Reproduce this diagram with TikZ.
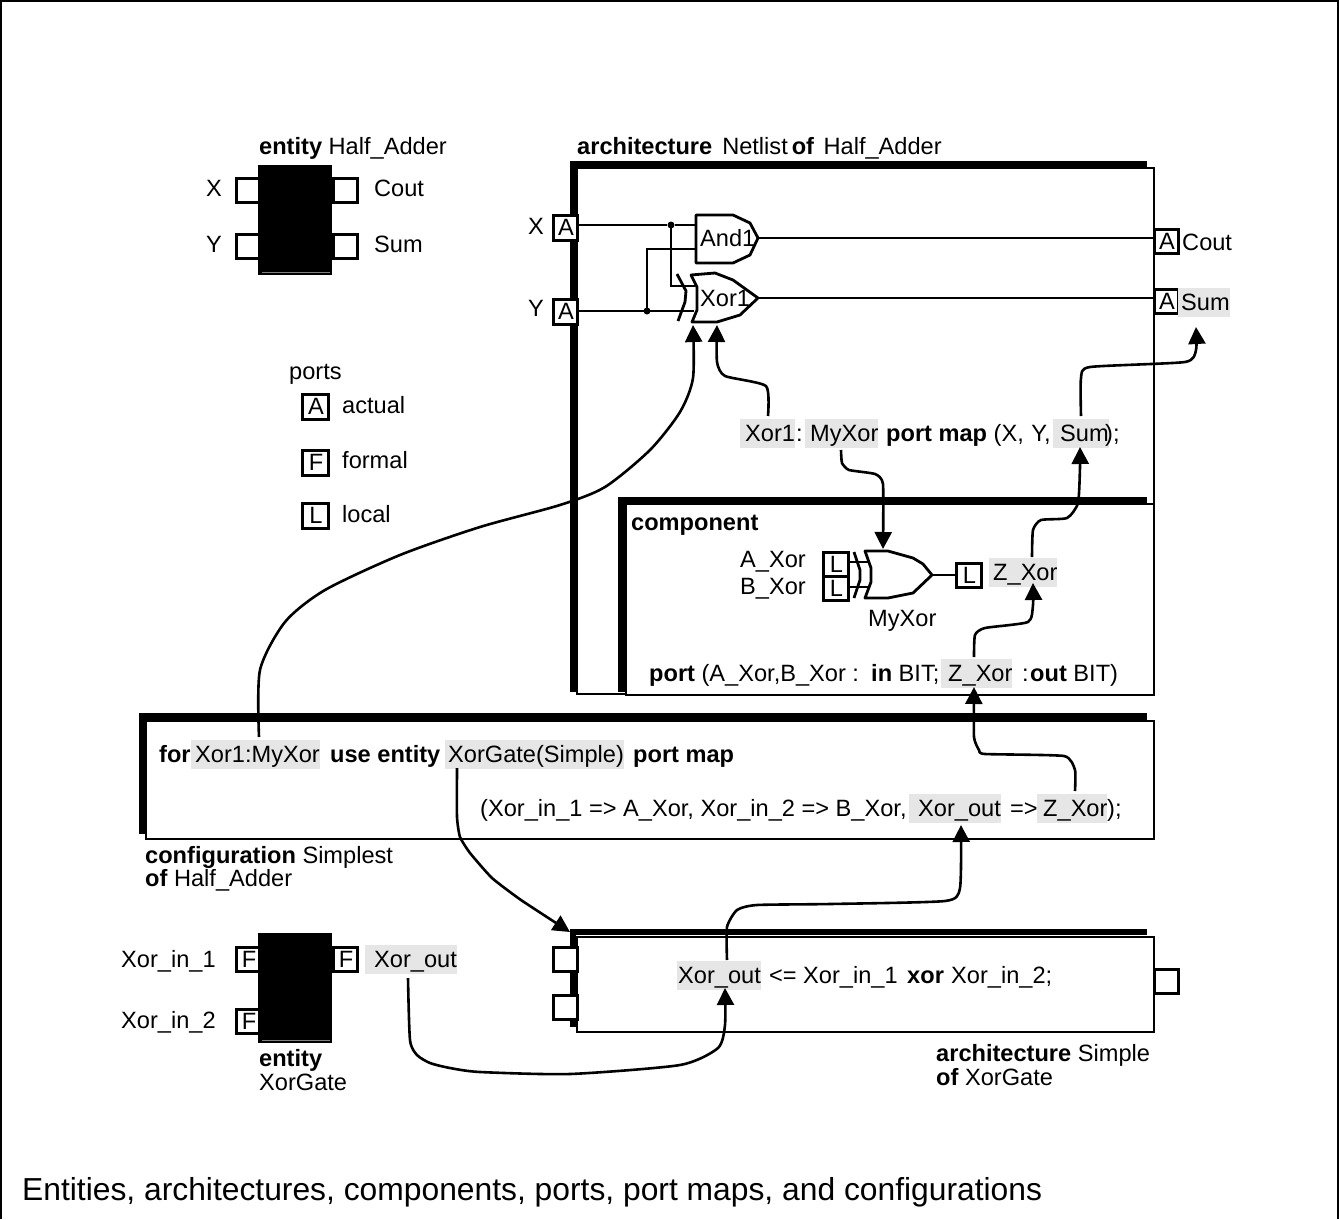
\documentclass[tikz,border=0pt]{standalone}
\usepackage{fontspec}
\setmainfont{Liberation Sans}
\usetikzlibrary{arrows.meta}
\definecolor{lblgrey}{HTML}{E6E6E6}
\newcommand{\pl}[1]{\hspace{1.5pt}\raisebox{-1.5pt}{#1}}
\tikzset{
  txt/.style={inner sep=0pt,anchor=west,text height=21pt,text depth=5pt,font=\fontsize{23.6}{26}\selectfont},
  glab/.style={txt,fill=lblgrey,inner ysep=1.5pt},
  port/.style={draw=black,line width=2.6pt,fill=white,inner sep=0pt,minimum width=24pt,minimum height=24pt,anchor=north west,font=\fontsize{23.6}{26}\selectfont},
  frameb/.style={draw=black,line width=2.4pt,anchor=north west,inner sep=0pt},
  blackb/.style={fill=black,draw=none,anchor=north west,inner sep=0pt,minimum width=74pt,minimum height=110pt},
  bar/.style={line width=6.5pt,black},
  wire/.style={line width=2.8pt,black},
  gate/.style={line width=2.8pt,black,line join=round,fill=white},
  curve/.style={line width=2.6pt,black,-{Triangle[length=17pt,width=17pt]}},
  dotj/.style={circle,fill=black,inner sep=0pt,minimum size=7pt},
}
\begin{document}
\begin{tikzpicture}[x=1pt,y=-1pt]
\useasboundingbox (0,0) rectangle (1339,1219);
\draw[line width=2pt] (1,1219) -- (1,1) -- (1338,1) -- (1338,1219);

% entity Half_Adder
\node[txt] (eName) at (259,146) {\textbf{entity} Half\_Adder\hspace{0pt}};
\node[port] (eX) at (235,177) {};
\node[port] (eY) at (235,233) {};
\node[port] (eC) at (332,177) {};
\node[port] (eS) at (332,233) {};
\node[blackb] (eBox) at (258,165) {};
\draw[gray,line width=.8pt] (262,272) -- (330,272);
\node[txt] (eXt) at (206,188) {X};
\node[txt] (eYt) at (206,244) {Y};
\node[txt] (eCt) at (374,188) {Cout};
\node[txt] (eSt) at (374,244) {Sum};

% legend
\node[txt] (lgT) at (289,371) {ports};
\node[port,minimum width=26pt,minimum height=25pt] (lgA) at (301,393) {\pl{A}};
\node[port,minimum width=26pt,minimum height=25pt] (lgF) at (301,449) {\pl{F}};
\node[port,minimum width=26pt,minimum height=25pt] (lgL) at (301,502) {\pl{L}};
\node[txt] (lgAt) at (342,405) {actual};
\node[txt] (lgFt) at (342,460) {formal};
\node[txt] (lgLt) at (342,514) {local};

% architecture Netlist
\node[txt] (aName) at (577,146) {\textbf{architecture}\hspace{3.4pt} Netlist\hspace{-2.6pt} \textbf{of}\hspace{3pt} Half\_Adder};
\node[frameb,minimum width=577pt,minimum height=526pt] (aBox) at (576,167) {};
\draw[bar] (570,164) -- (1147,164);
\draw[bar] (573.5,161) -- (573.5,692);

% component
\node[frameb,fill=white,minimum width=528pt,minimum height=191pt] (cBox) at (625,503) {};
\draw[bar] (618,500) -- (1147,500);
\draw[bar] (621.5,497) -- (621.5,692);
\node[txt] (cName) at (631,522) {\textbf{component}};

% configuration
\node[frameb,minimum width=1008pt,minimum height=118pt] (fBox) at (145,720) {};
\draw[bar] (139,716.5) -- (1147,716.5);
\draw[bar] (142.5,713) -- (142.5,834);

% architecture Simple
\node[frameb,minimum width=577pt,minimum height=95pt] (sBox) at (576,936) {};
\draw[bar] (570,932) -- (1147,932);
\draw[bar] (573,929) -- (573,1027);
\node[port] (sP1) at (552,946) {};
\node[port] (sP2) at (552,994) {};
\node[port] (sP3) at (1153,968) {};

% Netlist ports and gates
\node[port,minimum height=25pt] (pX) at (552,214) {\pl{A}};
\node[port,minimum height=25pt] (pY) at (552,298) {\pl{A}};
\node[port] (pC) at (1153,228) {\pl{A}};
\node[port] (pS) at (1153,288) {\pl{A}};
\node[txt] (pXt) at (528,226) {X};
\node[txt] (pYt) at (528,308) {Y};
\node[txt] (pCt) at (1182,242) {Cout};
\node[glab] (pSt) at (1178,302) {\hspace{3pt}Sum\hspace{0pt}};

\coordinate (andI1) at (696,225);
\coordinate (andI2) at (696,249);
\coordinate (andO) at (758,238);
\coordinate (xorI1) at (695,286);
\coordinate (xorI2) at (694,311);
\coordinate (xorO) at (758,298);
\node[dotj] (dX) at (671,225) {};
\node[dotj] (dY) at (647,311) {};
\draw[wire] (pX.east |- andI1) -- (dX) -- (andI1);
\draw[wire] (pY.east |- xorI2) -- (dY.center) -- (xorI2);
\draw[wire] (dX.center) |- (xorI1);
\draw[wire] (dY.center) |- (andI2);
\draw[wire] (andO) -- (pC.west |- andO);
\draw[wire] (xorO) -- (pS.west |- xorO);
\draw[gate] (696,215) -- (733,215) -- (750,223) -- (758,238) -- (750,255) -- (733,263) -- (696,263) -- cycle;
\draw[gate,fill=none] (677,274) -- (686,291) -- (685,302) -- (678,321);
\draw[gate] (691,275) -- (715,273) -- (733,280) -- (758,298) -- (740,315) -- (717,322) -- (692,322) -- (697,310) -- (697,287) -- cycle;
\node[txt] (gA) at (700,238) {And1};
\node[txt] (gX) at (700,298) {Xor1};
\coordinate (gXb1) at (693,325);
\coordinate (gXb2) at (717,325);

% port map statement
\node[glab] (mXor1) at (740,433) {\hspace{5pt}Xor1\hspace{2pt}};
\node[txt] (mColon) at (796,433) {:};
\node[glab] (mMy) at (805,433) {\hspace{5pt}MyXor\hspace{3pt}};
\node[txt] (mPM) at (886,433) {\textbf{port map} (X,\hspace{1pt} Y,};
\node[glab] (mSum) at (1053,433) {\hspace{7pt}Sum};
\node[txt] (mEnd) at (1105,433) {);};

% component symbol
\node[txt] (cA) at (740,559) {A\_Xor};
\node[txt] (cB) at (740,586) {B\_Xor};
\node[port,minimum width=25pt] (cL1) at (822,551) {\pl{L}};
\node[port,minimum width=25pt] (cL2) at (822,575) {\pl{L}};
\node[port,minimum width=25pt] (cL3) at (955,562) {\pl{L}};
\coordinate (cI1) at (868,562);
\coordinate (cI2) at (868,587);
\coordinate (cO) at (932,575);
\draw[wire] (cL1.east |- cI1) -- (cI1);
\draw[wire] (cL2.east |- cI2) -- (cI2);
\draw[wire] (cO) -- (cL3.west |- cO);
\draw[gate,fill=none] (854,552) -- (860,570) -- (860,580) -- (854,598);
\draw[gate] (865,551) -- (888,551) -- (913,558) -- (923,564) -- (932,575) -- (913,593) -- (888,598) -- (865,598) -- (871,582) -- (871,568) -- cycle;
\node[txt] (cMy) at (868,618) {MyXor};
\coordinate (cTop) at (883,549);
\node[glab] (cZ) at (989,572) {\hspace{4pt}Z\_Xor\hspace{2pt}};
\node[txt] (cP1) at (649,673) {\textbf{port} (A\_Xor,B\_Xor :};
\node[txt] (cP1b) at (871,673) {\textbf{in} BIT;};
\node[glab] (cZ2) at (941,673) {\hspace{7pt}Z\_Xor};
\node[txt] (cP2) at (1022,673) {:};
\node[txt] (cP3) at (1030,673) {\textbf{out} BIT)};

% configuration text
\node[txt] (f1) at (159,754) {\textbf{for}};
\node[glab] (f2) at (191,754) {\hspace{4pt}Xor1:MyXor\hspace{3pt}};
\node[txt] (f3) at (330,754) {\textbf{use entity}};
\node[glab] (f4) at (445,754) {\hspace{3pt}XorGate(Simple)\hspace{5pt}};
\node[txt] (f5) at (633,754) {\textbf{port map}};
\node[txt] (f6) at (480,808) {(Xor\_in\_1 => A\_Xor, Xor\_in\_2 => B\_Xor,};
\node[glab] (f7) at (909,808) {\hspace{9pt}Xor\_out\hspace{0pt}};
\node[txt] (f8) at (1010,808) {=>};
\node[glab] (f9) at (1037,808) {\hspace{6pt}Z\_Xor};
\node[txt] (f10) at (1107,808) {);};
\node[txt] (fN1) at (145,855) {\textbf{configuration} Simplest};
\node[txt] (fN2) at (145,878) {\textbf{of} Half\_Adder};

% entity XorGate
\node[port] (xF1) at (235,946) {\pl{F}};
\node[port] (xF2) at (235,1008) {\pl{F}};
\node[port] (xF3) at (332,946) {\pl{F}};
\node[blackb] (xBox) at (258,933) {};
\draw[gray,line width=.8pt] (262,1040) -- (330,1040);
\node[txt] (xT1) at (121,959) {Xor\_in\_1};
\node[txt] (xT2) at (121,1020) {Xor\_in\_2};
\node[glab] (xOut) at (365,959) {\hspace{9pt}Xor\_out};
\node[txt] (xN1) at (259,1058) {\textbf{entity}};
\node[txt] (xN2) at (259,1082) {XorGate};

% architecture Simple text
\node[glab] (sOut) at (677,975) {\hspace{1pt}Xor\_out\hspace{8pt}};
\node[txt] (sLe) at (769,975) {<=};
\node[txt] (sRest) at (803,975) {Xor\_in\_1};
\node[txt] (sXor) at (907,975) {\textbf{xor}};
\node[txt] (sRest2) at (951,975) {Xor\_in\_2;};
\node[txt] (sN1) at (936,1053) {\textbf{architecture} Simple};
\node[txt] (sN2) at (936,1077) {\textbf{of} XorGate};

% caption
\node[txt,font=\fontsize{31.8}{34}\selectfont] (cap) at (22,1192) {Entities, architectures, components, ports, port maps, and configurations};

% connector ends
\coordinate (k1) at (259,737);
\coordinate (k2) at (768,416);
\coordinate (k3a) at (1081,416);
\coordinate (k3b) at (1196,327);
\coordinate (k4a) at (1032,557);
\coordinate (k4b) at (1080,447);
\coordinate (k5) at (841,450);
\coordinate (k6a) at (974,657);
\coordinate (k6b) at (1033,583);
\coordinate (k7a) at (1075,791);
\coordinate (k7b) at (974,687);
\coordinate (k8a) at (457,768);
\coordinate (k8b) at (570,932);
\coordinate (k9a) at (727,960);
\coordinate (k9b) at (961,825);
\coordinate (k10a) at (408,978);
\coordinate (k10b) at (725,988);

% curved connectors
\draw[curve] plot[smooth,tension=.45] coordinates {(k1) (260,670) (285,622) (325,590) (400,555) (480,527) (560,505) (605,487) (650,450) (680,412) (693,378) (gXb1)};
\draw[curve] plot[smooth,tension=.35] coordinates {(k2) (766,386) (725,376) (717,362) (gXb2)};
\draw[curve] plot[smooth,tension=.35] coordinates {(k3a) (1081,378) (1090,367) (1185,362) (1196,350) (k3b)};
\draw[curve] plot[smooth,tension=.35] coordinates {(k4a) (1033,530) (1041,520) (1067,518) (1078,503) (1080,467) (k4b)};
\draw[curve] plot[smooth,tension=.3] coordinates {(k5) (842,463) (849,470) (875,474) (883,484) (cTop)};
\draw[curve] plot[smooth,tension=.35] coordinates {(k6a) (975,635) (985,628) (1028,622) (1033,605) (k6b)};
\draw[curve] plot[smooth,tension=.3] coordinates {(k7a) (1075,770) (1064,756) (985,754) (979,750) (974,737) (k7b)};
\draw[curve] plot[smooth,tension=.3] coordinates {(k8a) (457,817) (460,837) (470,853) (492,878) (521,900) (k8b)};
\draw[curve] plot[smooth,tension=.35] coordinates {(k9a) (727,927) (737,910) (757,905) (830,904) (945,901) (960,888) (k9b)};
\draw[curve] plot[smooth,tension=.4] coordinates {(k10a) (410,1040) (417,1055) (430,1063) (450,1068) (480,1072) (570,1074) (680,1065) (718,1048) (725,1025) (k10b)};
\end{tikzpicture}
\end{document}
